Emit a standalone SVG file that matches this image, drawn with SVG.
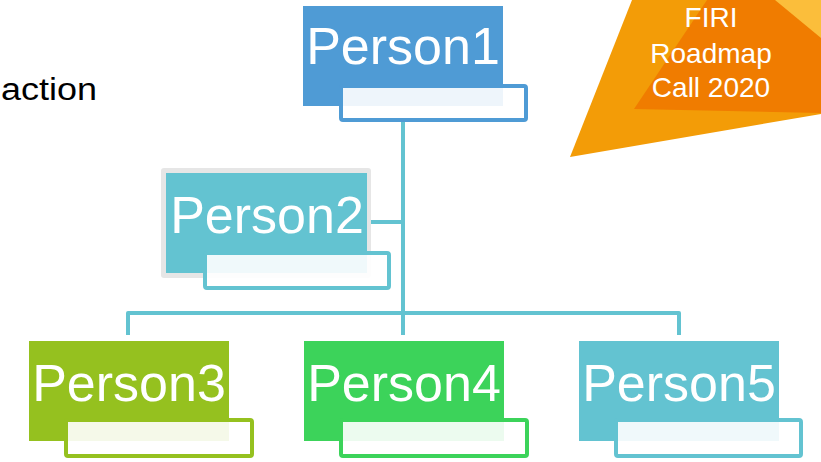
<svg xmlns="http://www.w3.org/2000/svg" width="821" height="462" viewBox="0 0 821 462">
<style>
.lbl{font-family:"Liberation Sans",Arial,sans-serif;font-size:52px;fill:#fff;text-anchor:middle}
.tag{font-family:"Liberation Sans",Arial,sans-serif;font-size:28px;fill:#fff;text-anchor:middle}
.sub{fill:#fff;fill-opacity:0.9;stroke-width:4}
.conn{fill:none;stroke:#63C3D1;stroke-width:4;stroke-linejoin:round}
</style>
<rect width="821" height="462" fill="#fff"/>
<g id="banner">
<polygon points="570,157 632,0 821,0 821,114" fill="#F39C07"/>
<polygon points="634,109 707,0 821,0 821,113" fill="#F07C00"/>
<polygon points="775,0 821,0 821,38" fill="#FBBE3B"/>
<text class="tag" x="711" y="27">FIRI</text>
<text class="tag" x="711" y="63">Roadmap</text>
<text class="tag" x="711" y="97">Call 2020</text>
</g>
<g id="action-text">
<text x="1" y="100" font-family="'Liberation Sans',Arial,sans-serif" font-size="31" fill="#000" textLength="96" lengthAdjust="spacingAndGlyphs">action</text>
</g>
<g id="connectors">
<path class="conn" d="M403,120 V335"/>
<path class="conn" d="M128,335 V313 H679 V335"/>
<path class="conn" d="M371,222 H403"/>
</g>
<g id="person1">
<rect x="303" y="6" width="200" height="100" fill="#4F9BD5"/>
<text class="lbl" x="403" y="64">Person1</text>
<rect class="sub" x="341" y="86" width="185" height="34" rx="2" stroke="#4F9BD5"/>
</g>
<g id="person2">
<rect x="161" y="168" width="210" height="110" rx="3" fill="#E6E6E6"/>
<rect x="166" y="173" width="201" height="100" fill="#63C3D1"/>
<text class="lbl" x="267" y="233">Person2</text>
<rect class="sub" x="205" y="253" width="184" height="35" rx="2" stroke="#63C3D1"/>
</g>
<g id="person3">
<rect x="29" y="341" width="200" height="100" fill="#95C11F"/>
<text class="lbl" x="129" y="401">Person3</text>
<rect class="sub" x="66" y="420" width="186" height="36" rx="2" stroke="#95C11F"/>
</g>
<g id="person4">
<rect x="304" y="341" width="200" height="100" fill="#3CD35A"/>
<text class="lbl" x="404" y="401">Person4</text>
<rect class="sub" x="341" y="420" width="186" height="36" rx="2" stroke="#3CD35A"/>
</g>
<g id="person5">
<rect x="579" y="341" width="200" height="100" fill="#63C3D1"/>
<text class="lbl" x="679" y="401">Person5</text>
<rect class="sub" x="616" y="420" width="185" height="36" rx="2" stroke="#63C3D1"/>
</g>
</svg>
